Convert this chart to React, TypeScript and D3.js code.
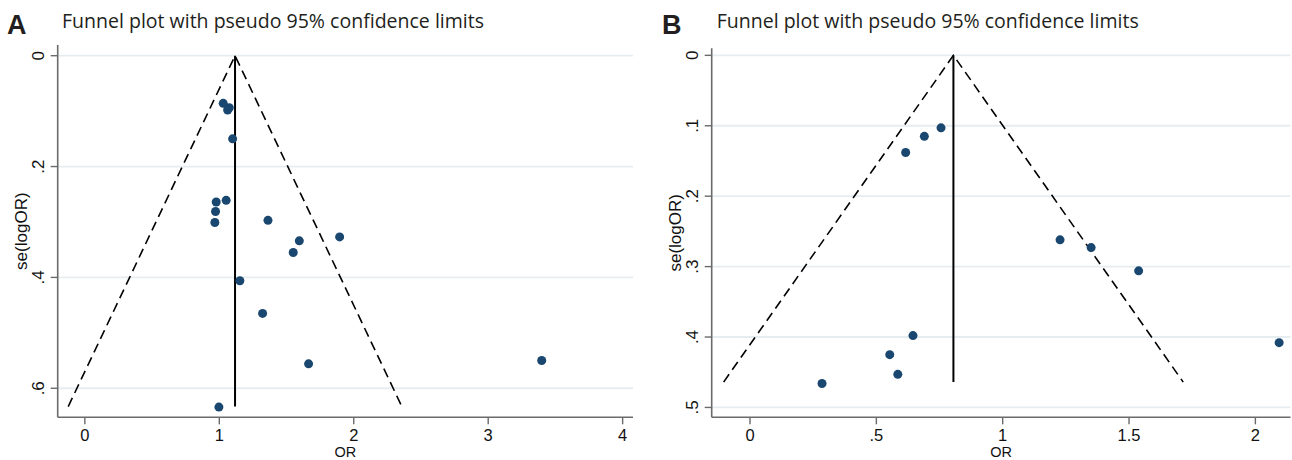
import * as d3 from 'd3';

// panel A: odds ratio and its standard error for each study
const orA = [1.029, 1.074, 1.062, 1.099, 0.977, 1.051, 0.972, 0.967, 1.362, 1.595, 1.55, 1.895, 1.153, 1.322, 1.664, 3.398, 0.997];
const seA = [0.086, 0.094, 0.098, 0.15, 0.264, 0.261, 0.281, 0.301, 0.297, 0.334, 0.355, 0.327, 0.406, 0.465, 0.556, 0.55, 0.634];
const pooledA = 1.117;
const seMaxA = 0.633;
const xTicksA = [0, 1, 2, 3, 4];
const yTicksA = [0, 0.2, 0.4, 0.6];

// panel B
const orB = [0.756, 0.69, 0.616, 0.645, 0.553, 0.585, 0.285, 1.227, 1.35, 1.538, 2.094];
const seB = [0.103, 0.115, 0.138, 0.398, 0.425, 0.453, 0.466, 0.262, 0.273, 0.306, 0.408];
const pooledB = 0.805;
const seMaxB = 0.464;
const xTicksB = [0, 0.5, 1, 1.5, 2];
const yTicksB = [0, 0.1, 0.2, 0.3, 0.4, 0.5];

const TITLE = 'Funnel plot with pseudo 95% confidence limits';
const fmt = (v: number) => (v === 0 ? '0' : d3.format('~g')(v).replace(/^0\./, '.'));
const AXIS_FONT = 'Liberation Sans, Arial, sans-serif';

type PanelProps = {
  letter: string;
  or: number[];
  se: number[];
  pooled: number;
  seMax: number;
  xTicks: number[];
  yTicks: number[];
  xDomain: [number, number];
  yDomain: [number, number];
  left: number;
  right: number;
  top: number;
  bottom: number;
  letterX: number;
  titleX: number;
};

function Panel(p: PanelProps) {
  const x = d3.scaleLinear().domain(p.xDomain).range([p.left, p.right]);
  const y = d3.scaleLinear().domain(p.yDomain).range([p.top, p.bottom]);
  const axisCol = '#6a6a6a';
  const lo = p.pooled - 1.96 * p.seMax;
  const hi = p.pooled + 1.96 * p.seMax;
  const funnel = d3.line<[number, number]>().x((d) => x(d[0])).y((d) => y(d[1]));

  return (
    <g>
      <text x={p.letterX} y={34} fontFamily={AXIS_FONT} fontWeight="bold" fontSize={27} fill="#231f20">
        {p.letter}
      </text>
      <text x={p.titleX} y={28} fontFamily="Open Sans, sans-serif" fontSize={20} fill="#231f20" textLength={422} lengthAdjust="spacingAndGlyphs">
        {TITLE}
      </text>

      {/* gridlines */}
      {p.yTicks.map((t) => (
        <line key={'g' + t} x1={p.left} x2={p.right} y1={y(t)} y2={y(t)} stroke="#e5edf0" strokeWidth={1.8} />
      ))}

      {/* funnel */}
      <path d={funnel([[lo, p.seMax], [p.pooled, 0], [hi, p.seMax]]) || ''} fill="none" stroke="#000" strokeWidth={1.6} strokeDasharray="9.5,5.5" />
      <line x1={x(p.pooled)} x2={x(p.pooled)} y1={y(0)} y2={y(p.seMax)} stroke="#000" strokeWidth={2} />

      {/* points */}
      {p.or.map((v, i) => (
        <circle key={i} cx={x(v)} cy={y(p.se[i])} r={4.5} fill="#1a476f" />
      ))}

      {/* axes */}
      <line x1={p.left} x2={p.left} y1={p.top} y2={p.bottom} stroke={axisCol} strokeWidth={1.6} />
      <line x1={p.left} x2={p.right} y1={p.bottom} y2={p.bottom} stroke={axisCol} strokeWidth={1.6} />
      {p.yTicks.map((t) => (
        <g key={'y' + t}>
          <line x1={p.left - 7} x2={p.left} y1={y(t)} y2={y(t)} stroke={axisCol} strokeWidth={1.4} />
          <text
            transform={`translate(${p.left - 14},${y(t)}) rotate(-90)`}
            textAnchor="middle"
            fontFamily={AXIS_FONT}
            fontSize={17}
            fill="#111"
          >
            {fmt(t)}
          </text>
        </g>
      ))}
      {p.xTicks.map((t) => (
        <g key={'x' + t}>
          <line x1={x(t)} x2={x(t)} y1={p.bottom} y2={p.bottom + 7} stroke={axisCol} strokeWidth={1.4} />
          <text x={x(t)} y={440.5} textAnchor="middle" fontFamily={AXIS_FONT} fontSize={16.5} fill="#111">
            {fmt(t)}
          </text>
        </g>
      ))}
      <text x={(p.left + p.right) / 2} y={456.8} textAnchor="middle" fontFamily={AXIS_FONT} fontSize={14.5} fill="#111">
        OR
      </text>
      <text
        transform={`translate(${p.left - 31},${(p.top + p.bottom) / 2}) rotate(-90)`}
        textAnchor="middle"
        fontFamily={AXIS_FONT}
        fontSize={17}
        fill="#111"
      >
        se(logOR)
      </text>
    </g>
  );
}

export default function App() {
  return (
    <svg width={1292} height={460} style={{ position: 'absolute', left: 0, top: 0, background: '#fff' }}>
      <rect width={1292} height={460} fill="#fff" />
      <Panel
        letter="A"
        or={orA}
        se={seA}
        pooled={pooledA}
        seMax={seMaxA}
        xTicks={xTicksA}
        yTicks={yTicksA}
        xDomain={[-0.202, 4.077]}
        yDomain={[-0.0193, 0.6524]}
        left={57.7}
        right={633}
        top={45}
        bottom={417.3}
        letterX={7}
        titleX={62}
      />
      <Panel
        letter="B"
        or={orB}
        se={seB}
        pooled={pooledB}
        seMax={seMaxB}
        xTicks={xTicksB}
        yTicks={yTicksB}
        xDomain={[-0.1516, 2.139]}
        yDomain={[-0.01, 0.514]}
        left={711.7}
        right={1290.5}
        top={48.3}
        bottom={417.3}
        letterX={662}
        titleX={716.7}
      />
    </svg>
  );
}
